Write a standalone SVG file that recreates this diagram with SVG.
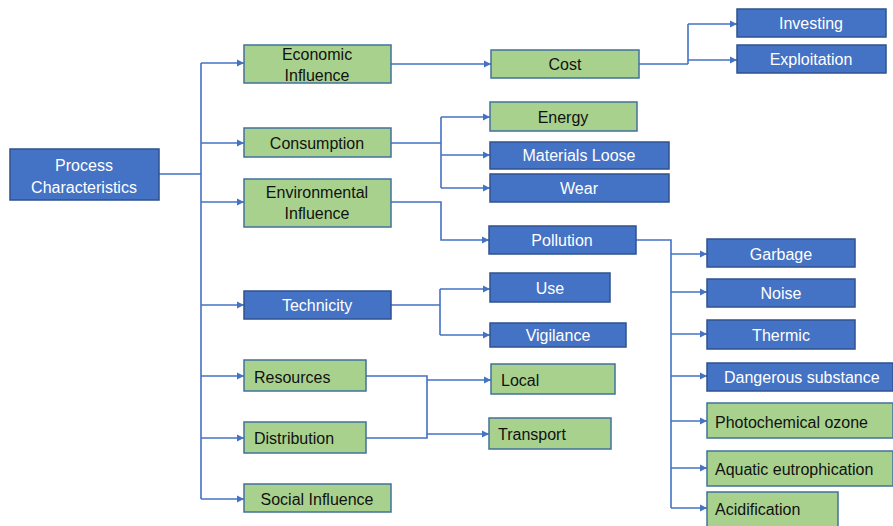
<svg xmlns="http://www.w3.org/2000/svg" width="893" height="526" viewBox="0 0 893 526">
<style>
.g{fill:#A9D18E;stroke:#41719C;stroke-width:1.5}
.b{fill:#4472C4;stroke:#2F528F;stroke-width:1.5}
text{font-family:"Liberation Sans",Arial,sans-serif;font-size:16px}
.tg{fill:#111}
.tb{fill:#fff}
.c{text-anchor:middle}
.ln{fill:none;stroke:#4472C4;stroke-width:1.6}
.ar{fill:none;stroke:#4472C4;stroke-width:1.6;marker-end:url(#ah)}
</style>
<defs>
<marker id="ah" markerWidth="8" markerHeight="8" refX="7" refY="4" orient="auto" markerUnits="userSpaceOnUse">
<path d="M0,0.5 L7,4 L0,7.5 Z" fill="#4472C4"/>
</marker>
</defs>
<rect width="893" height="526" fill="#fff"/>
<g id="connectors">
<path class="ln" d="M159,174 H201 M201,63 V499"/>
<path class="ar" d="M201,63 H244"/>
<path class="ar" d="M201,143 H244"/>
<path class="ar" d="M201,202 H244"/>
<path class="ar" d="M201,305 H244"/>
<path class="ar" d="M201,376 H244"/>
<path class="ar" d="M201,438 H244"/>
<path class="ar" d="M201,499 H244"/>
<path class="ar" d="M391,64 H491"/>
<path class="ln" d="M639,64 H688 M688,24 V64"/>
<path class="ar" d="M688,24 H737"/>
<path class="ar" d="M688,60 H737"/>
<path class="ln" d="M391,143 H441 M441,117 V188"/>
<path class="ar" d="M441,117 H490"/>
<path class="ar" d="M441,155 H490"/>
<path class="ar" d="M441,188 H490"/>
<path class="ar" d="M391,202 H441 V240 H489"/>
<path class="ln" d="M636,240 H671 V508"/>
<path class="ar" d="M671,254 H707"/>
<path class="ar" d="M671,292 H707"/>
<path class="ar" d="M671,334 H707"/>
<path class="ar" d="M671,376 H707"/>
<path class="ar" d="M671,421 H707"/>
<path class="ar" d="M671,468 H707"/>
<path class="ar" d="M671,508 H707"/>
<path class="ln" d="M391,305 H440 M440,289 V335"/>
<path class="ar" d="M440,289 H490"/>
<path class="ar" d="M440,335 H490"/>
<path class="ln" d="M366,376 H427 V438 H366"/>
<path class="ar" d="M427,380 H491"/>
<path class="ar" d="M427,434 H489"/>
</g>
<g id="process-characteristics"><rect class="b" x="10" y="149" width="149" height="51"/><text class="tb c" x="84" y="170.5">Process</text><text class="tb c" x="84" y="192.5">Characteristics</text></g>
<g id="economic-influence"><rect class="g" x="244" y="45" width="147" height="38"/><text class="tg c" x="317" y="59.5">Economic</text><text class="tg c" x="317" y="80.5">Influence</text></g>
<g id="consumption"><rect class="g" x="244" y="128" width="147" height="29"/><text class="tg c" x="317" y="148.5">Consumption</text></g>
<g id="environmental-influence"><rect class="g" x="244" y="179" width="147" height="48"/><text class="tg c" x="317" y="197.5">Environmental</text><text class="tg c" x="317" y="218.5">Influence</text></g>
<g id="technicity"><rect class="b" x="244" y="291" width="147" height="28"/><text class="tb c" x="317" y="310.5">Technicity</text></g>
<g id="resources"><rect class="g" x="244" y="360" width="122" height="31"/><text class="tg" x="254" y="382.5">Resources</text></g>
<g id="distribution"><rect class="g" x="244" y="422" width="122" height="31"/><text class="tg" x="254" y="443.5">Distribution</text></g>
<g id="social-influence"><rect class="g" x="244" y="484" width="147" height="28"/><text class="tg c" x="317" y="504.5">Social Influence</text></g>
<g id="cost"><rect class="g" x="491" y="50" width="148" height="28"/><text class="tg c" x="565" y="69.5">Cost</text></g>
<g id="investing"><rect class="b" x="737" y="9" width="149" height="28"/><text class="tb c" x="811" y="28.5">Investing</text></g>
<g id="exploitation"><rect class="b" x="737" y="45" width="149" height="28"/><text class="tb c" x="811" y="64.5">Exploitation</text></g>
<g id="energy"><rect class="g" x="490" y="102" width="147" height="29"/><text class="tg c" x="563" y="122.5">Energy</text></g>
<g id="materials-loose"><rect class="b" x="490" y="142" width="179" height="27"/><text class="tb c" x="579" y="161">Materials Loose</text></g>
<g id="wear"><rect class="b" x="490" y="174" width="179" height="28"/><text class="tb c" x="579" y="193.5">Wear</text></g>
<g id="pollution"><rect class="b" x="489" y="226" width="147" height="28"/><text class="tb c" x="562" y="245.5">Pollution</text></g>
<g id="use"><rect class="b" x="490" y="273" width="120" height="29"/><text class="tb c" x="550" y="293.5">Use</text></g>
<g id="vigilance"><rect class="b" x="490" y="323" width="136" height="24"/><text class="tb c" x="558" y="340.5">Vigilance</text></g>
<g id="local"><rect class="g" x="491" y="364" width="124" height="30"/><text class="tg" x="501" y="385.5">Local</text></g>
<g id="transport"><rect class="g" x="489" y="418" width="122" height="31"/><text class="tg" x="498" y="439.5">Transport</text></g>
<g id="garbage"><rect class="b" x="707" y="239" width="148" height="28"/><text class="tb c" x="781" y="259.5">Garbage</text></g>
<g id="noise"><rect class="b" x="707" y="279" width="148" height="28"/><text class="tb c" x="781" y="298.5">Noise</text></g>
<g id="thermic"><rect class="b" x="707" y="320" width="148" height="29"/><text class="tb c" x="781" y="340.5">Thermic</text></g>
<g id="dangerous-substance"><rect class="b" x="707" y="363" width="186" height="28"/><text class="tb" x="724" y="382.5">Dangerous substance</text></g>
<g id="photochemical-ozone"><rect class="g" x="707" y="403" width="186" height="35"/><text class="tg" x="715" y="427.5">Photochemical ozone</text></g>
<g id="aquatic-eutrophication"><rect class="g" x="707" y="451" width="186" height="35"/><text class="tg" x="715" y="474.5">Aquatic eutrophication</text></g>
<g id="acidification"><rect class="g" x="707" y="492" width="131" height="40"/><text class="tg" x="715" y="514.5">Acidification</text></g>
</svg>
